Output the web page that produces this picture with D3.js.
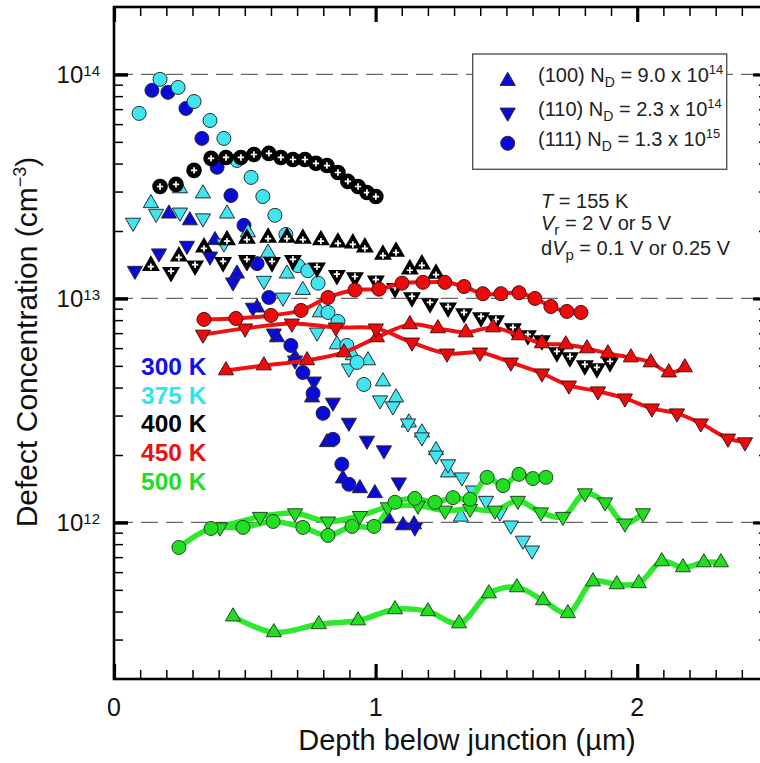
<!DOCTYPE html>
<html><head><meta charset="utf-8">
<script src="https://cdn.jsdelivr.net/npm/d3@7"></script>
<style>
body{margin:0;background:#fff}
svg{display:block;font-family:Arial,"Liberation Sans",sans-serif}
text{white-space:pre}
</style>
</head><body>
<svg id="c" width="760" height="763"></svg>
<script>
// ---------- axis / label data ----------
const xMajorTicks = [0, 1, 2];
const yMajorTicks = [1e12, 1e13, 1e14];
const yTickExponents = ["12", "13", "14"];
const tempLabels = ["300 K", "375 K", "400 K", "450 K", "500 K"];
const tempColors = ["#1010ee", "#33e3ee", "#000000", "#ee1111", "#22dd22"];
const legendOrient = ["(100)", "(110)", "(111)"];
const legendND = ["9.0", "2.3", "1.3"];
const legendExp = ["14", "14", "15"];

// ---------- series: [depth (µm), concentration (cm^-3)] ----------
// 300 K (no lines)
const s300_100 = [[0.210,2.39e13],[0.290,2.23e13],[0.386,1.82e13],[0.470,1.29e13],[0.547,9.1e12],[0.623,6.7e12],[0.692,5.45e12],[0.757,3.61e12],[0.814,2.28e12],[0.875,1.57e12],[0.940,1.42e12],[0.997,1.35e12],[1.047,1.04e12],[1.105,9.7e11],[1.147,9.8e11]];
const s300_110 = [[0.080,1.33e13],[0.172,1.59e13],[0.279,1.72e13],[0.367,1.54e13],[0.455,1.18e13],[0.531,9.1e12],[0.611,6.98e12],[0.692,5.29e12],[0.764,4.26e12],[0.837,3.43e12],[0.898,2.79e12],[0.967,2.32e12],[1.032,2.10e12],[1.089,1.51e12],[1.150,9.5e11]];
const s300_111 = [[0.145,8.49e13],[0.206,8.32e13],[0.275,7.05e13],[0.336,5.18e13],[0.394,3.85e13],[0.447,2.88e13],[0.497,2.12e13],[0.547,1.43e13],[0.592,1.01e13],[0.676,6.17e12],[0.722,4.67e12],[0.761,3.77e12],[0.799,3.07e12],[0.837,2.35e12],[0.871,1.82e12],[0.898,1.48e12]];
// 375 K
const s375_100 = [[0.141,2.66e13],[0.252,3.10e13],[0.340,2.94e13],[0.432,2.39e13],[0.512,1.97e13],[0.589,1.60e13],[0.661,1.29e13],[0.722,1.09e13],[0.787,8.66e12],[0.852,6.23e12],[0.913,5.57e12],[0.971,5.29e12],[1.028,4.26e12],[1.078,3.61e12],[1.127,2.79e12],[1.177,2.52e12],[1.231,2.10e12],[1.277,1.67e12],[1.326,1.06e12]];
const s375_110 = [[0.073,2.18e13],[0.161,2.39e13],[0.252,2.42e13],[0.340,2.28e13],[0.420,1.76e13],[0.508,1.45e13],[0.573,1.20e13],[0.646,1.01e13],[0.776,7.05e12],[0.898,4.87e12],[1.017,3.51e12],[1.066,3.30e12],[1.124,2.77e12],[1.177,2.40e12],[1.231,1.99e12],[1.277,1.82e12],[1.330,1.59e12],[1.372,1.39e12],[1.422,1.25e12],[1.475,1.11e12],[1.517,9.7e11],[1.563,8.3e11],[1.598,7.5e11]];
const s375_111 = [[0.096,6.70e13],[0.176,9.51e13],[0.245,8.75e13],[0.306,7.57e13],[0.367,6.23e13],[0.420,5.18e13],[0.470,4.13e13],[0.524,3.47e13],[0.569,2.85e13],[0.615,2.35e13],[0.657,1.93e13],[0.703,1.40e13],[0.741,1.33e13],[0.780,1.17e13],[0.818,8.66e12],[0.856,7.89e12],[0.890,6.17e12],[0.929,5.18e12],[0.955,4.13e12]];
// 400 K
const s400_100 = [[0.141,1.40e13],[0.248,1.54e13],[0.344,1.69e13],[0.432,1.82e13],[0.508,1.85e13],[0.589,1.87e13],[0.661,1.87e13],[0.722,1.85e13],[0.791,1.82e13],[0.856,1.78e13],[0.913,1.76e13],[0.959,1.69e13],[1.028,1.57e13],[1.078,1.62e13],[1.131,1.35e13],[1.177,1.42e13],[1.231,1.29e13]];
const s400_110 = [[0.218,1.31e13],[0.310,1.40e13],[0.417,1.45e13],[0.508,1.48e13],[0.604,1.45e13],[0.684,1.48e13],[0.776,1.37e13],[0.852,1.27e13],[0.921,1.24e13],[1.001,1.20e13],[1.074,1.11e13],[1.139,1.01e13],[1.208,9.5e12],[1.277,9.1e12],[1.338,8.57e12],[1.403,8.23e12],[1.460,7.97e12],[1.525,7.35e12],[1.582,6.84e12],[1.636,6.49e12],[1.693,5.74e12],[1.743,5.45e12],[1.800,5.02e12],[1.846,4.87e12],[1.896,5.18e12]];
const s400_111 = [[0.176,3.16e13],[0.237,3.23e13],[0.306,3.73e13],[0.371,4.22e13],[0.428,4.26e13],[0.485,4.26e13],[0.535,4.39e13],[0.592,4.44e13],[0.638,4.26e13],[0.684,4.17e13],[0.730,4.17e13],[0.772,4.01e13],[0.814,3.92e13],[0.856,3.65e13],[0.894,3.33e13],[0.933,3.16e13],[0.967,2.97e13],[1.001,2.85e13]];
// 450 K (with lines)
const s450_100 = [[0.428,4.77e12],[0.573,5.02e12],[0.738,5.29e12],[0.879,5.74e12],[1.005,6.70e12],[1.131,7.66e12],[1.238,7.35e12],[1.345,7.05e12],[1.449,7.42e12],[1.548,6.84e12],[1.636,6.30e12],[1.727,6.23e12],[1.808,5.98e12],[1.888,5.68e12],[1.976,5.45e12],[2.052,5.18e12],[2.121,4.67e12],[2.182,4.92e12]];
const s450_110 = [[0.340,6.90e12],[0.501,7.35e12],[0.680,7.73e12],[0.848,7.42e12],[1.001,7.35e12],[1.139,6.36e12],[1.273,5.68e12],[1.399,5.74e12],[1.517,5.18e12],[1.636,4.63e12],[1.739,4.09e12],[1.850,3.85e12],[1.953,3.58e12],[2.056,3.23e12],[2.152,3.07e12],[2.243,2.77e12],[2.347,2.37e12],[2.412,2.28e12]];
const s450_111 = [[0.344,8.06e12],[0.466,8.14e12],[0.600,8.40e12],[0.715,8.84e12],[0.818,1.01e13],[0.921,1.09e13],[1.013,1.10e13],[1.101,1.17e13],[1.181,1.18e13],[1.265,1.18e13],[1.338,1.13e13],[1.410,1.05e13],[1.479,1.05e13],[1.548,1.06e13],[1.609,1.00e13],[1.670,9.2e12],[1.731,8.75e12],[1.785,8.66e12]];
// 500 K (with lines)
const s500_100 = [[0.455,3.80e11],[0.611,3.23e11],[0.783,3.51e11],[0.933,3.65e11],[1.074,4.09e11],[1.200,4.01e11],[1.319,3.54e11],[1.433,4.82e11],[1.540,5.13e11],[1.640,4.49e11],[1.735,3.93e11],[1.831,5.45e11],[1.922,5.29e11],[2.006,5.35e11],[2.094,6.70e11],[2.175,6.30e11],[2.255,6.63e11],[2.320,6.63e11]];
const s500_110 = [[0.405,9.5e11],[0.558,1.06e12],[0.692,1.10e12],[0.818,1.01e12],[0.940,1.07e12],[1.047,1.17e12],[1.162,1.19e12],[1.265,1.13e12],[1.361,1.15e12],[1.456,1.13e12],[1.544,1.25e12],[1.632,1.11e12],[1.716,1.06e12],[1.800,1.35e12],[1.877,1.23e12],[1.953,9.9e11],[2.022,1.10e12]];
const s500_111 = [[0.248,7.73e11],[0.371,9.4e11],[0.493,9.5e11],[0.608,1.01e12],[0.722,9.5e11],[0.818,8.75e11],[0.910,9.6e11],[0.994,9.6e11],[1.074,1.23e12],[1.150,1.28e12],[1.227,1.23e12],[1.296,1.29e12],[1.361,1.27e12],[1.426,1.59e12],[1.487,1.46e12],[1.548,1.64e12],[1.601,1.57e12],[1.651,1.59e12]];

// ---------- chart ----------
const svg = d3.select("#c");
const L = 114, R = 768, T = 7, B = 679;
const x = d3.scaleLinear().domain([0, 2.5]).range([L, R]);
const y = d3.scaleLog().domain([2e11, 2e14]).range([B, T]);

const xMinor = d3.range(1, 25).filter(i => i % 10 !== 0).map(i => i / 10);
const yMinor = [];
[11, 12, 13].forEach(e => d3.range(2, 10).forEach(m => {
  const v = m * Math.pow(10, e);
  if (v > 2.01e11 && v < 1.99e14) yMinor.push(v);
}));

// dashed gridlines at decades
svg.append("g").selectAll("line").data(yMajorTicks).join("line")
  .attr("x1", L + 2).attr("x2", R).attr("y1", d => y(d)).attr("y2", d => y(d))
  .attr("stroke", "#666").attr("stroke-width", 1.3).attr("stroke-dasharray", "17,8");

// axes with inward ticks
function styleAxis(g, w) {
  g.select(".domain").remove();
  g.selectAll(".tick line").attr("stroke", "#000").attr("stroke-width", w);
  g.selectAll(".tick text").remove();
}
svg.append("g").attr("transform", `translate(0,${B})`)
  .call(d3.axisBottom(x).tickValues(xMinor).tickSize(-9)).call(g => styleAxis(g, 1.5));
svg.append("g").attr("transform", `translate(0,${B})`)
  .call(d3.axisBottom(x).tickValues(xMajorTicks).tickSize(-15)).call(g => styleAxis(g, 3.2));
svg.append("g").attr("transform", `translate(0,${T})`)
  .call(d3.axisTop(x).tickValues(xMinor).tickSize(-9)).call(g => styleAxis(g, 1.5));
svg.append("g").attr("transform", `translate(0,${T})`)
  .call(d3.axisTop(x).tickValues(xMajorTicks).tickSize(-15)).call(g => styleAxis(g, 3.2));
svg.append("g").attr("transform", `translate(${L},0)`)
  .call(d3.axisLeft(y).tickValues(yMinor).tickSize(-9)).call(g => styleAxis(g, 1.5));
svg.append("g").attr("transform", `translate(${L},0)`)
  .call(d3.axisLeft(y).tickValues(yMajorTicks).tickSize(-14)).call(g => styleAxis(g, 3.5));
svg.append("g").attr("transform", `translate(${R},0)`)
  .call(d3.axisRight(y).tickValues(yMinor).tickSize(-9)).call(g => styleAxis(g, 1.5));
svg.append("g").attr("transform", `translate(${R},0)`)
  .call(d3.axisRight(y).tickValues(yMajorTicks).tickSize(-15)).call(g => styleAxis(g, 3.2));

// frame
svg.append("rect").attr("x", L).attr("y", T).attr("width", R - L).attr("height", B - T)
  .attr("fill", "none").attr("stroke", "#000").attr("stroke-width", 2.6);

// tick labels
svg.append("g").selectAll("text").data(xMajorTicks).join("text")
  .attr("x", d => x(d)).attr("y", 716).attr("text-anchor", "middle")
  .attr("font-size", 25).attr("fill", "#111").text(d => d);
const yl = svg.append("g").selectAll("text").data(yMajorTicks).join("text")
  .attr("x", 100).attr("y", d => y(d) + 9).attr("text-anchor", "end").attr("fill", "#111");
yl.append("tspan").attr("font-size", 24).text("10");
yl.append("tspan").attr("font-size", 15).attr("dy", -7.5).text((d, i) => yTickExponents[i]);

// axis titles
svg.append("text").attr("x", 467).attr("y", 750).attr("text-anchor", "middle")
  .attr("font-size", 29).attr("fill", "#111").text("Depth below junction (µm)");
const yt = svg.append("text").attr("transform", "translate(37,342) rotate(-90)")
  .attr("text-anchor", "middle").attr("font-size", 30).attr("fill", "#111");
yt.append("tspan").text("Defect Concentration (cm");
yt.append("tspan").attr("font-size", 18).attr("dy", -11).text("−3");
yt.append("tspan").attr("dy", 11).text(")");

// ---------- markers ----------
const TRI = 100, CIR_R = 7;
const triUp = d3.symbol().type(d3.symbolTriangle).size(TRI)();
const circ = d3.symbol().type(d3.symbolCircle).size(Math.PI * CIR_R * CIR_R)();
const plus = "M-3.2,0H3.2M0,-3.2V3.2";

function markers(data, shape, fill, stroke, withPlus) {
  const g = svg.append("g");
  const gs = g.selectAll("g").data(data).join("g")
    .attr("transform", d => `translate(${x(d[0])},${y(d[1])})` + (shape === "down" ? " rotate(180)" : ""));
  gs.append("path").attr("d", shape === "circle" ? circ : triUp)
    .attr("fill", fill).attr("stroke", stroke).attr("stroke-width", withPlus ? 1.6 : 1);
  if (withPlus) {
    gs.append("path").attr("d", plus).attr("stroke", "#fff").attr("stroke-width", 1.7)
      .attr("transform", shape === "circle" ? null : "translate(0,1)");
  }
}
function curve(data, color, width) {
  const line = d3.line().x(d => x(d[0])).y(d => y(d[1])).curve(d3.curveCatmullRom.alpha(0.5));
  svg.append("path").datum(data).attr("d", line).attr("fill", "none")
    .attr("stroke", color).attr("stroke-width", width).attr("stroke-linejoin", "round").attr("stroke-linecap", "round");
}

const blueF = "#0a0ad8", cyanF = "#40e6ee", redF = "#ee0a0a", greenF = "#22dd22";
const edge = "#2a2a3a";

markers(s300_100, "up", blueF, edge);
markers(s300_110, "down", blueF, edge);
markers(s300_111, "circle", blueF, edge);

markers(s375_100, "up", cyanF, edge);
markers(s375_110, "down", cyanF, edge);
markers(s375_111, "circle", cyanF, edge);

markers(s400_100, "up", "#000", "#000", true);
markers(s400_110, "down", "#000", "#000", true);
markers(s400_111, "circle", "#000", "#000", true);

curve(s450_100, "#f21010", 4);
curve(s450_110, "#f21010", 4);
curve(s450_111, "#f21010", 4);
markers(s450_100, "up", redF, "#4a1010");
markers(s450_110, "down", redF, "#4a1010");
markers(s450_111, "circle", redF, "#4a1010");

curve(s500_100, "#2ee82e", 5.5);
curve(s500_110, "#2ee82e", 5.5);
curve(s500_111, "#2ee82e", 5.5);
markers(s500_100, "up", greenF, "#1f4a1f");
markers(s500_110, "down", greenF, "#1f4a1f");
markers(s500_111, "circle", greenF, "#1f4a1f");

// temperature labels
svg.append("g").selectAll("text").data(tempLabels).join("text")
  .attr("x", 141).attr("y", (d, i) => 375 + i * 28.7)
  .attr("font-size", 24.5).attr("font-weight", "bold")
  .attr("fill", (d, i) => tempColors[i]).text(d => d);

// legend box
svg.append("rect").attr("x", 472.7).attr("y", 54).attr("width", 254).attr("height", 115.3)
  .attr("fill", "#fff").attr("stroke", "#555").attr("stroke-width", 1.4);
const legShapes = ["up", "down", "circle"];
const legMarkY = [81, 112.5, 143.3];
const legTextY = [82, 116, 146];
legShapes.forEach((s, i) => {
  svg.append("path").attr("d", s === "circle" ? circ : triUp)
    .attr("transform", `translate(507.7,${legMarkY[i]})` + (s === "down" ? " rotate(180)" : ""))
    .attr("fill", blueF).attr("stroke", edge).attr("stroke-width", 1);
  const t = svg.append("text").attr("x", 538).attr("y", legTextY[i]).attr("font-size", 20).attr("fill", "#222");
  t.append("tspan").text(legendOrient[i] + " N");
  t.append("tspan").attr("font-size", 14).attr("dy", 5).text("D");
  t.append("tspan").attr("dy", -5).text(" = " + legendND[i] + " x 10");
  t.append("tspan").attr("font-size", 13).attr("dy", -8).text(legendExp[i]);
});

// conditions annotation
const a1 = svg.append("text").attr("x", 541).attr("y", 208).attr("font-size", 20).attr("fill", "#222");
a1.append("tspan").attr("font-style", "italic").text("T");
a1.append("tspan").text(" = 155 K");
const a2 = svg.append("text").attr("x", 541).attr("y", 230).attr("font-size", 20).attr("fill", "#222");
a2.append("tspan").attr("font-style", "italic").text("V");
a2.append("tspan").attr("font-size", 15).attr("dy", 5).text("r");
a2.append("tspan").attr("dy", -5).text(" = 2 V or 5 V");
const a3 = svg.append("text").attr("x", 541).attr("y", 255).attr("font-size", 20).attr("fill", "#222");
a3.append("tspan").text("d");
a3.append("tspan").attr("font-style", "italic").text("V");
a3.append("tspan").attr("font-size", 15).attr("dy", 5).text("p");
a3.append("tspan").attr("dy", -5).text(" = 0.1 V or 0.25 V");
</script>
</body></html>
